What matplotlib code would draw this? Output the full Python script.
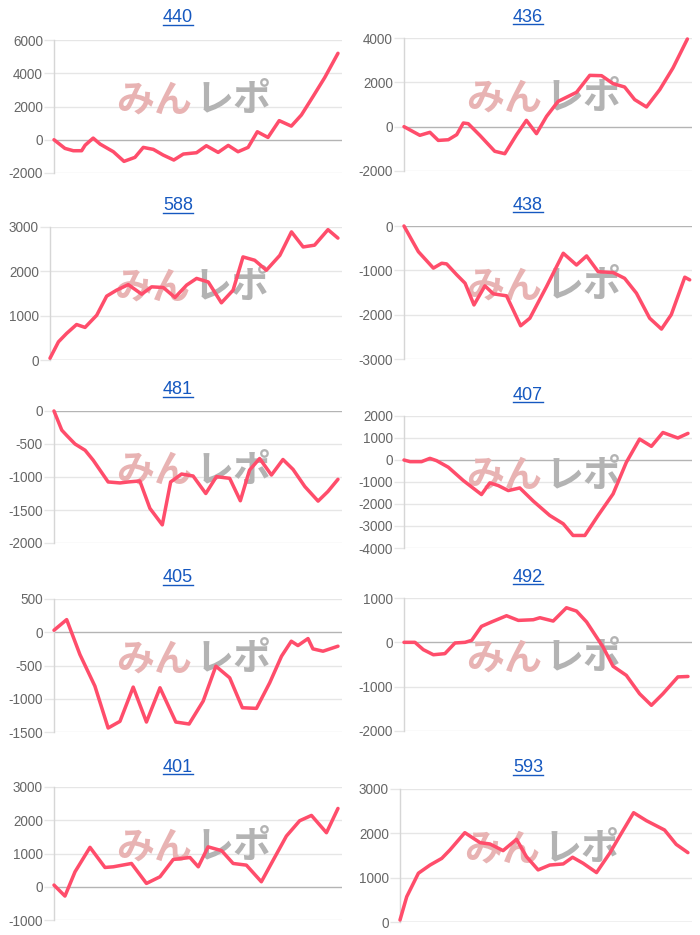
import matplotlib
matplotlib.use("Agg")
import matplotlib.pyplot as plt
from matplotlib.lines import Line2D
import numpy as np

# Data: x = progress along the session (0-100), y = balance
titles = ["440", "436", "588", "438", "481", "407", "405", "492", "401", "593"]

x_440 = [0, 3.8, 6.7, 9.6, 10.8, 13.6, 16.0, 20.6, 24.3, 28.1, 31.0, 34.5, 37.9, 41.6, 44.9,
         49.5, 52.9, 57.0, 60.5, 63.9, 67.4, 70.6, 74.3, 78.2, 82.4, 85.9, 89.9, 94.0, 98.6]
y_440 = [0, -520, -660, -660, -330, 100, -260, -720, -1300, -1060, -460, -580, -920, -1220, -860,
         -780, -360, -760, -340, -720, -460, 480, 140, 1150, 820, 1490, 2590, 3740, 5200]

x_436 = [0, 5.5, 9.0, 11.9, 15.4, 18.3, 20.6, 22.3, 26.4, 31.5, 35.0, 39.1, 42.5, 46.0, 49.5,
         53.5, 59.9, 64.5, 68.6, 72.6, 76.6, 80.1, 84.2, 88.8, 93.4, 98.4]
y_436 = [0, -390, -255, -620, -590, -360, 165, 135, -400, -1110, -1220, -360, 285, -315, 465,
         1140, 1550, 2315, 2300, 1940, 1790, 1220, 890, 1670, 2650, 3955]

x_588 = [0, 2.9, 5.7, 9.1, 12.0, 16.0, 19.4, 22.8, 26.8, 31.4, 34.8, 38.8, 42.8, 46.8, 50.2,
         54.2, 58.7, 62.7, 66.1, 70.1, 74.1, 78.7, 82.7, 86.7, 90.6, 95.2, 98.6]
y_588 = [40, 410, 600, 800, 735, 1010, 1440, 1575, 1700, 1485, 1650, 1635, 1410, 1690, 1840,
         1760, 1290, 1575, 2325, 2250, 2025, 2360, 2890, 2550, 2590, 2940, 2750]

x_438 = [0, 2.7, 5.0, 10.2, 13.1, 14.8, 18.3, 21.2, 24.3, 28.1, 31.0, 35.6, 40.5, 43.7, 49.5,
         55.3, 59.9, 63.4, 67.4, 72.6, 76.6, 80.7, 85.3, 89.4, 92.8, 97.5, 99.2]
y_438 = [0, -315, -580, -950, -840, -855, -1100, -1290, -1780, -1350, -1530, -1575, -2250, -2080, -1365,
         -615, -880, -675, -1030, -1050, -1180, -1515, -2080, -2325, -2000, -1155, -1215]

x_481 = [0, 2.7, 4.4, 7.3, 10.8, 13.6, 18.8, 22.9, 25.8, 29.8, 33.3, 37.6, 40.5, 44.3, 48.3,
         52.7, 56.4, 61.0, 64.7, 67.9, 71.4, 75.5, 79.5, 83.0, 87.1, 91.7, 95.1, 98.6]
y_481 = [0, -290, -370, -500, -595, -745, -1075, -1090, -1075, -1060, -1475, -1725, -1075, -955, -985,
         -1250, -995, -1020, -1360, -895, -720, -970, -735, -885, -1145, -1365, -1220, -1035]

x_407 = [0, 2.1, 6.1, 9.0, 11.3, 15.4, 20.6, 26.9, 29.8, 32.7, 36.2, 40.2, 44.9, 50.6, 55.3,
         58.7, 62.8, 67.4, 72.6, 77.2, 81.8, 85.9, 89.9, 95.1, 98.6]
y_407 = [0, -75, -75, 75, -30, -330, -935, -1570, -1040, -1160, -1390, -1270, -1870, -2520, -2900,
         -3430, -3430, -2520, -1540, -105, 950, 620, 1250, 1000, 1210]

x_405 = [0, 4.4, 9.0, 14.2, 18.8, 22.9, 27.5, 32.1, 36.8, 42.3, 46.9, 51.8, 56.2, 61.0, 65.4,
         70.3, 74.9, 79.0, 82.4, 84.7, 88.2, 89.9, 93.4, 98.6]
y_405 = [30, 190, -335, -810, -1440, -1340, -825, -1350, -835, -1350, -1380, -1035, -510, -685, -1135,
         -1145, -760, -360, -135, -200, -95, -250, -285, -210]

x_492 = [0, 3.8, 6.7, 10.2, 14.2, 17.7, 21.2, 23.5, 26.9, 30.4, 35.6, 39.7, 44.9, 47.2, 51.8,
         56.4, 59.9, 63.4, 69.1, 72.6, 77.2, 81.8, 85.9, 89.9, 95.1, 98.6]
y_492 = [0, 0, -165, -280, -255, -15, 0, 45, 360, 460, 600, 495, 510, 555, 480,
         780, 705, 460, -105, -540, -745, -1160, -1420, -1160, -780, -770]

x_401 = [0, 3.8, 7.3, 12.5, 17.7, 20.6, 26.9, 32.1, 36.8, 41.4, 47.2, 50.1, 53.5, 58.2, 62.2,
         66.8, 72.0, 76.1, 80.7, 85.3, 89.4, 94.6, 98.6]
y_401 = [50, -280, 450, 1185, 580, 600, 700, 100, 300, 820, 880, 600, 1200, 1085, 700,
         650, 150, 800, 1525, 1985, 2145, 1625, 2355]

x_593 = [0, 2.3, 6.3, 10.3, 14.3, 17.1, 22.2, 27.4, 30.8, 35.3, 39.9, 43.3, 47.3, 51.3, 55.9,
         59.1, 62.7, 67.3, 71.8, 75.8, 80.0, 84.4, 90.6, 94.6, 98.6]
y_593 = [45, 570, 1100, 1285, 1435, 1625, 2015, 1790, 1760, 1610, 1865, 1475, 1175, 1285, 1310,
         1460, 1325, 1115, 1550, 2000, 2465, 2285, 2075, 1750, 1565]

series = [(x_440, y_440), (x_436, y_436), (x_588, y_588), (x_438, y_438), (x_481, y_481),
          (x_407, y_407), (x_405, y_405), (x_492, y_492), (x_401, y_401), (x_593, y_593)]

# y axis range and tick step per panel
y_ranges = [(-2000, 6000, 2000), (-2000, 4000, 2000), (0, 3000, 1000), (-3000, 0, 1000),
            (-2000, 0, 500), (-4000, 2000, 1000), (-1500, 500, 500), (-2000, 1000, 1000),
            (-1000, 3000, 1000), (0, 3000, 1000)]

# layout in pixels: left, right, top, bottom of the plot area, title centre y
W, H = 700, 935
boxes = [(54, 342, 40, 173, 18), (404, 692, 38, 171, 17),
         (50, 342, 227, 360, 206), (404, 692, 226, 359, 205),
         (54, 342, 411, 543, 390), (404, 692, 416, 548, 395),
         (54, 342, 599, 732, 578), (404, 692, 598, 731, 577),
         (54, 342, 787, 920, 767), (400, 692, 789, 922, 768)]

line_color = "#ff4d6b"
grid_color = "#e6e6e6"
zero_color = "#b4b4b4"
label_color = "#666666"
link_color = "#1558c0"
px = 72 / 100  # points per pixel at dpi 100

plt.rcParams["font.family"] = ["Liberation Sans", "DejaVu Sans"]
plt.rcParams["axes.unicode_minus"] = False

fig = plt.figure(figsize=(W / 100, H / 100), dpi=100)
title_texts = []

for i, ((xs, ys), (lo, hi, step), (l, r, t, b, ty)) in enumerate(zip(series, y_ranges, boxes)):
    ax = fig.add_axes([l / W, 1 - b / H, (r - l) / W, (b - t) / H])
    ax.set_xlim(0, 100)
    ax.set_ylim(lo, hi)
    ticks = np.arange(lo, hi + step / 2, step)
    ax.set_yticks(ticks)
    ax.set_xticks([])
    ax.yaxis.grid(True, color=grid_color, linewidth=1.0, zorder=0)
    for v, tk, gl in zip(ticks, ax.yaxis.get_major_ticks(), ax.get_ygridlines()):
        if v == 0:
            gl.set_color(zero_color)
            tk.tick1line.set_color(zero_color)
    ax.tick_params(axis="y", length=10 * px, width=1.0, color=grid_color, pad=1 * px,
                   labelsize=13.5 * px, labelcolor=label_color)
    for s in ["top", "right", "bottom"]:
        ax.spines[s].set_visible(False)
    ax.spines["left"].set_color("#d6d6d6")
    ax.spines["left"].set_linewidth(1.0)
    ax.set_axisbelow(True)

    # watermark
    ax.text(0.48, 0.55, "みん", transform=ax.transAxes, ha="right", va="center",
            fontsize=38 * px, fontweight="bold", color="#e8b3b3",
            family=["Noto Sans CJK JP", "DejaVu Sans"], zorder=1)
    ax.text(0.49, 0.55, "レポ", transform=ax.transAxes, ha="left", va="center",
            fontsize=38 * px, fontweight="bold", color="#b3b3b3",
            family=["Noto Sans CJK JP", "DejaVu Sans"], zorder=1)

    ax.plot(xs, ys, color=line_color, linewidth=3.5 * px, solid_joinstyle="round",
            solid_capstyle="round", zorder=3, clip_on=False)

    cx = 178 if l < 300 else 528
    tt = fig.text(cx / W, 1 - ty / H, titles[i], ha="center", va="center",
                  fontsize=18 * px, color=link_color)
    title_texts.append(tt)

# underline the titles like links
fig.canvas.draw()
renderer = fig.canvas.get_renderer()
for tt in title_texts:
    bb = tt.get_window_extent(renderer)
    yline = bb.y0 + 1.5
    fig.add_artist(Line2D([bb.x0 / W, bb.x1 / W], [yline / H, yline / H],
                          color=link_color, linewidth=1.0, transform=fig.transFigure))

fig.savefig("out.png", dpi=100)
